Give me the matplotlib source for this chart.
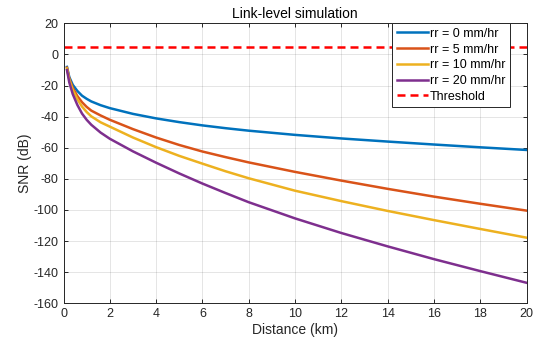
import matplotlib
matplotlib.use("Agg")
import matplotlib.pyplot as plt

# values
distance_km = [0.15, 0.25, 0.4, 0.6, 0.8, 1.0, 1.2, 1.6, 2, 3, 4, 5, 6, 7, 8,
               10, 12, 14, 16, 18, 20]
snr_rr0 = [-8, -14.5, -19.5, -23.5, -26.5, -28.5, -30.2, -32.6, -34.5, -38.2, -41.1,
           -43.5, -45.6, -47.4, -49, -51.7, -54, -56, -57.9, -59.7, -61.4]
snr_rr5 = [-8.5, -15.5, -21.5, -26.8, -30.7, -33.7, -36.1, -39.2, -42, -48, -53.4,
           -58.2, -62.4, -66, -69.4, -75.5, -81.1, -86.4, -91.4, -96, -100.4]
snr_rr10 = [-9, -16.3, -22.8, -28.8, -33.5, -37, -39.8, -43.6, -46.4, -53.4, -59.6,
            -65.2, -70.2, -75.1, -79.6, -87.6, -94.3, -100.6, -106.5, -112.2, -117.8]
snr_rr20 = [-10, -18, -25.5, -32.5, -38, -42, -45.2, -50.2, -54.2, -62.3, -69.6,
            -76.5, -83, -89.1, -95, -105.4, -114.8, -123.4, -131.6, -139.3, -146.8]
threshold_db = 5

series_labels = ["rr = 0 mm/hr", "rr = 5 mm/hr", "rr = 10 mm/hr", "rr = 20 mm/hr"]
series_colors = ["#0072BD", "#D95319", "#EDB120", "#7E2F8E"]

plt.rcParams['font.family'] = ['Liberation Sans', 'DejaVu Sans']
plt.rcParams['axes.unicode_minus'] = False

fig = plt.figure(figsize=(5.4, 3.49), dpi=100)
ax = fig.add_axes([0.1176, 0.131, 0.8574, 0.802])

for y, lab, col in zip([snr_rr0, snr_rr5, snr_rr10, snr_rr20], series_labels, series_colors):
    ax.plot(distance_km, y, color=col, lw=1.8, label=lab, solid_joinstyle="round")
ax.axhline(threshold_db, color="#FF0000", lw=1.8, ls=(0, (3.2, 2.0)), label="Threshold")

ax.set_xlim(0, 20)
ax.set_ylim(-160, 20)
ax.set_xticks(range(0, 21, 2))
ax.set_yticks(range(-160, 21, 20))
ax.grid(True, color="#262626", alpha=0.12, lw=0.7)
ax.tick_params(direction="in", top=True, right=True, labelsize=9, colors="#262626",
               length=3, width=0.7)
for s in ax.spines.values():
    s.set_color("#262626")
    s.set_linewidth(0.7)

ax.set_xlabel("Distance (km)", fontsize=10, color="#262626", labelpad=2)
ax.set_ylabel("SNR (dB)", fontsize=10, color="#262626", labelpad=1)
ax.set_title("Link-level simulation", fontsize=10, color="black", pad=4)

leg = ax.legend(loc="upper right", bbox_to_anchor=(0.964, 1.0), fontsize=9,
                frameon=True, fancybox=False, borderaxespad=0, handlelength=2.5,
                handletextpad=0.15, labelspacing=0.3, borderpad=0.35)
leg.get_frame().set_edgecolor("#262626")
leg.get_frame().set_linewidth(0.7)
leg.get_frame().set_alpha(1)

fig.savefig("out.png", dpi=100)
